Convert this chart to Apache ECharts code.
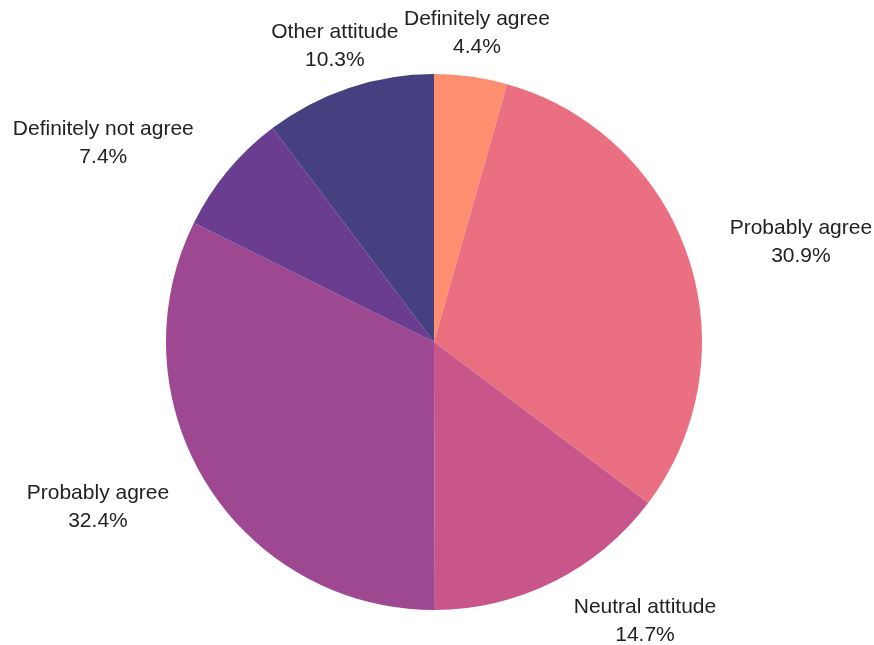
<!DOCTYPE html>
<html>
<head>
<meta charset="utf-8">
<style>
  html, body { margin: 0; padding: 0; background: #ffffff; }
  #chart { width: 874px; height: 645px; }
</style>
<script src="https://cdn.jsdelivr.net/npm/echarts@6/dist/echarts.min.js"></script>
</head>
<body>
<div id="chart"></div>
<script>
// Survey answers, clockwise from 12 o'clock
const categories = ['Definitely agree', 'Probably agree', 'Neutral attitude', 'Probably agree', 'Definitely not agree', 'Other attitude'];
const shares = [4.4, 30.9, 14.7, 32.4, 7.4, 10.3];
const sliceColors = ['#FD8E6F', '#EA6F80', '#C9568A', '#9E4892', '#6B3D90', '#463F80'];

// Mid-angle of each slice, degrees clockwise from the top
const total = shares.reduce((a, b) => a + b, 0);
const midAngles = [];
let acc = 0;
shares.forEach(v => {
  midAngles.push((acc + v / 2) / total * 360);
  acc += v;
});

const chart = echarts.init(document.getElementById('chart'), null, { renderer: 'canvas' });

chart.setOption({
  backgroundColor: '#ffffff',
  animation: false,
  series: [{
    type: 'pie',
    center: [434, 342],
    radius: 268,
    startAngle: 90,
    clockwise: true,
    avoidLabelOverlap: false,
    data: categories.map((name, i) => ({
      name: name,
      value: shares[i],
      itemStyle: { color: sliceColors[i] }
    })),
    itemStyle: { borderWidth: 0 },
    emphasis: { disabled: true },
    label: {
      show: true,
      position: 'outside',
      distanceToLabelLine: 0,
      formatter: p => '{t|' + p.name + '}\n{t|' + p.value.toFixed(1) + '%}',
      rich: {
        t: {
          fontFamily: 'Liberation Sans, Arial, sans-serif',
          fontSize: 21,
          lineHeight: 28,
          color: '#222222',
          align: 'center'
        }
      }
    },
    labelLine: { show: false, length: 44, length2: 0 },
    labelLayout: function (p) {
      // labels near the top of the pie sit centred over their slice
      const a = midAngles[p.dataIndex] * Math.PI / 180;
      if (Math.cos(a) > 0.9) {
        return { align: 'center' };
      }
      return {};
    }
  }]
});
</script>
</body>
</html>
